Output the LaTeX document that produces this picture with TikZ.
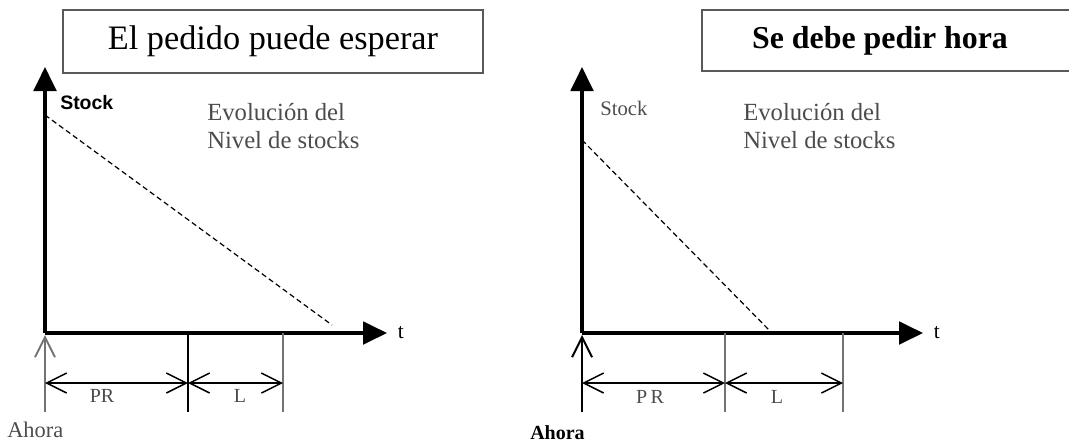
\documentclass[tikz,border=0pt]{standalone}
\usepackage{fontspec}
\setmainfont{Liberation Serif}
\newfontfamily\stocksans{Liberation Sans}
\usetikzlibrary{arrows.meta,positioning}
\definecolor{framegray}{gray}{0.35}
\definecolor{notegray}{gray}{0.3}
\definecolor{tickgray}{gray}{0.45}

\begin{document}
\begin{tikzpicture}[x=0.75pt,y=-0.75pt] % 1 unit = 1 px of the picture
\tikzstyle{titlebox} = [draw=framegray, line width=1.6pt, inner sep=0pt] % frame of a title
\tikzstyle{titletext} = [font=\fontsize{25.7}{30}\selectfont, inner sep=0pt] % title text
\tikzstyle{axis} = [line width=2.3pt, -{Triangle[length=18pt,width=17pt]}] % stock and time axes
\tikzstyle{tick} = [line width=1.5pt] % marks under the time axis
\tikzstyle{barb} = [line width=1.1pt, {Straight Barb[length=15pt,width=15pt]}-{Straight Barb[length=15pt,width=15pt]}] % PR and L spans
\tikzstyle{nowarrow} = [line width=1.5pt, -{Straight Barb[length=15pt,width=15pt]}] % "Ahora" arrow
\tikzstyle{level} = [line width=0.9pt, dash pattern=on 4pt off 2.5pt] % stock level
\tikzstyle{note} = [text=notegray, font=\fontsize{18.5}{21}\selectfont, align=left, inner sep=0pt]
\tikzstyle{small} = [text=notegray, font=\fontsize{15}{17}\selectfont, inner sep=0pt]
\useasboundingbox (0,0) rectangle (1069,444);

% ---- El pedido puede esperar ----
\node[titlebox, minimum width=315pt, minimum height=47pt] (boxA) at (273,41.5) {};
\node[titletext] (titleA) at (boxA) {El pedido puede esperar};
\coordinate (oA) at (45,333);
\coordinate (yA) at (45,67);
\coordinate (xA) at (387,333);
\draw[axis] (oA) -- (yA);
\draw[axis] (oA) -- (xA);
\node[small, text=black, font=\fontsize{16}{18}\selectfont, right=8pt of xA] (tA) {t};
\node[font=\stocksans\bfseries\fontsize{14.6}{16}\selectfont, inner sep=0pt, anchor=west] (stockA) at (60,103) {Stock};
\node[note, anchor=west] (noteA) at (207,126) {Evolución del\\Nivel de stocks};
\coordinate (topA) at (45,115);
\coordinate (endA) at (332,325);
\draw[level] (topA) -- (endA);
% marks and spans
\coordinate (nowA) at (45,412);
\coordinate (pA) at (188,333);
\coordinate (pAb) at (188,412);
\coordinate (lA) at (283,333);
\coordinate (lAb) at (283,412);
\draw[nowarrow, draw=tickgray] (nowA) -- (45,335);
\draw[tick] (pA) -- (pAb);
\draw[tick, draw=tickgray] (lA) -- (lAb);
\coordinate (sA) at (45,383);
\coordinate (mA) at (188,383);
\coordinate (eA) at (283,383);
\draw[barb] (sA) -- (mA);
\draw[barb] (mA) -- (eA);
\node[small] (prA) at (102,396) {PR};
\node[small] (llA) at (240,396) {L};
\node[font=\fontsize{16.8}{19}\selectfont, text=notegray, inner sep=0pt, anchor=west] (ahoraA) at (7,430) {Ahora};

% ---- Se debe pedir hora ----
\node[titlebox, minimum width=283pt, minimum height=46pt] (boxB) at (891,40.5) {};
\node[titletext, font=\bfseries\fontsize{23.9}{28}\selectfont] (titleB) at (880,40.5) {Se debe pedir hora};
\coordinate (oB) at (582,333);
\coordinate (yB) at (582,67);
\coordinate (xB) at (923,333);
\draw[axis] (oB) -- (yB);
\draw[axis] (oB) -- (xB);
\node[small, text=black, font=\fontsize{16}{18}\selectfont, right=8pt of xB] (tB) {t};
\node[small, font=\fontsize{15.5}{17}\selectfont, anchor=west] (stockB) at (600,108) {Stock};
\node[note, anchor=west] (noteB) at (743,126) {Evolución del\\Nivel de stocks};
\coordinate (topB) at (582,140);
\coordinate (endB) at (772,333);
\draw[level] (topB) -- (endB);
% marks and spans
\coordinate (nowB) at (582,412);
\coordinate (pB) at (725,333);
\coordinate (pBb) at (725,412);
\coordinate (lB) at (843,333);
\coordinate (lBb) at (843,412);
\draw[nowarrow] (nowB) -- (582,335);
\draw[tick, draw=tickgray] (pB) -- (pBb);
\draw[tick, draw=tickgray] (lB) -- (lBb);
\coordinate (sB) at (582,383);
\coordinate (mB) at (725,383);
\coordinate (eB) at (843,383);
\draw[barb] (sB) -- (mB);
\draw[barb] (mB) -- (eB);
\node[small] (prB) at (650,397) {P\,R};
\node[small] (llB) at (777,397) {L};
\node[font=\bfseries\fontsize{15}{17}\selectfont, inner sep=0pt, anchor=west] (ahoraB) at (530,433) {Ahora};
\end{tikzpicture}
\end{document}
